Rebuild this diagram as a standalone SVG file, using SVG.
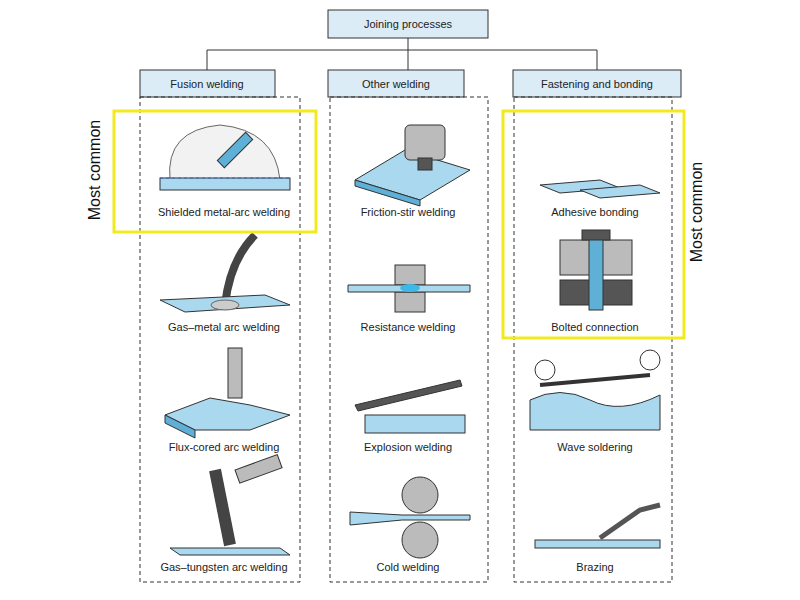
<svg xmlns="http://www.w3.org/2000/svg" width="800" height="600" viewBox="0 0 800 600">
<style>
.hdr{fill:#dcecf7;stroke:#333;stroke-width:1}
.col{fill:none;stroke:#333;stroke-width:1;stroke-dasharray:4,3}
.t{font-family:"Liberation Sans",Arial,sans-serif;font-size:11px;fill:#222;text-anchor:middle}
.mc{font-family:"Liberation Sans",Arial,sans-serif;font-size:16px;fill:#111;text-anchor:middle}
.yl{fill:none;stroke:#f2ea1e;stroke-width:3}
.pl{fill:#a9d8ef;stroke:#333;stroke-width:1}
.pd{fill:#5fb0d6;stroke:#333;stroke-width:1}
.gr{fill:#bbb;stroke:#333;stroke-width:1}
.dk{fill:#555;stroke:#333;stroke-width:1}
</style>
<rect width="800" height="600" fill="#fff"/>
<g id="connectors" fill="none" stroke="#333" stroke-width="1">
<path d="M408,38V50M207,50H597M207,50V70M408,50V70M597,50V70"/>
</g>
<g id="root"><rect class="hdr" x="328" y="10" width="160" height="28"/><text class="t" x="408" y="28">Joining processes</text></g>
<g id="fusion"><rect class="hdr" x="140" y="70" width="135" height="27"/><text class="t" x="207" y="88">Fusion welding</text><rect class="col" x="140" y="97" width="160" height="485"/></g>
<g id="other"><rect class="hdr" x="328" y="70" width="136" height="27"/><text class="t" x="396" y="88">Other welding</text><rect class="col" x="330" y="97" width="158" height="485"/></g>
<g id="fasten"><rect class="hdr" x="513" y="70" width="168" height="27"/><text class="t" x="597" y="88">Fastening and bonding</text><rect class="col" x="514" y="97" width="158" height="485"/></g>
<g id="smaw"><path d="M170,180 Q165,130 220,125 Q275,130 280,180Z" fill="#f2f2f2" stroke="#666"/><rect class="pl" x="160" y="178" width="130" height="12"/><path d="M160,178 H290" stroke="#36c" stroke-dasharray="3,3"/><rect class="pd" x="215" y="145" width="40" height="10" transform="rotate(-45 235 150)"/><text class="t" x="224" y="216">Shielded metal-arc welding</text></g>
<g id="gmaw"><path d="M225,305 Q230,260 255,235" fill="none" stroke="#444" stroke-width="8"/><path d="M160,300 L265,295 L290,305 L185,312Z" class="pl"/><ellipse cx="225" cy="305" rx="14" ry="5" fill="#ccc" stroke="#666"/><text class="t" x="224" y="331">Gas–metal arc welding</text></g>
<g id="fcaw"><rect class="gr" x="228" y="348" width="14" height="50"/><path d="M165,415 L210,398 L250,405 L290,415 L250,430 L195,430Z" class="pl"/><path d="M165,415 L195,430 L195,438 L165,423Z" class="pd"/><text class="t" x="224" y="451">Flux-cored arc welding</text></g>
<g id="gtaw"><path d="M215,470 L230,545" stroke="#444" stroke-width="12"/><rect class="gr" x="235" y="470" width="45" height="14" transform="rotate(-20 235 470)"/><path d="M170,548 H280 L290,555 H180Z" class="pl"/><text class="t" x="224" y="571">Gas–tungsten arc welding</text></g>
<g id="fsw"><path d="M355,180 L405,150 L470,170 L420,200Z" class="pl"/><path d="M355,180 L420,200 V206 L355,186Z" class="pd"/><rect class="gr" x="405" y="125" width="40" height="35" rx="5"/><rect class="dk" x="418" y="158" width="14" height="12"/><text class="t" x="408" y="216">Friction-stir welding</text></g>
<g id="rw"><rect class="gr" x="395" y="265" width="30" height="20"/><rect class="gr" x="395" y="292" width="30" height="20"/><path d="M348,285 H470 V292 H348Z" class="pl"/><ellipse cx="410" cy="288" rx="10" ry="4" fill="#3fb8e8"/><text class="t" x="408" y="331">Resistance welding</text></g>
<g id="ew"><path d="M355,405 L460,380 L462,386 L358,411Z" class="dk"/><rect class="pl" x="365" y="415" width="100" height="18"/><text class="t" x="408" y="451">Explosion welding</text></g>
<g id="cw"><circle class="gr" cx="420" cy="495" r="18"/><circle class="gr" cx="420" cy="540" r="18"/><path d="M350,512 L402,515 H470 V520 H402 L350,525Z" class="pl"/><text class="t" x="408" y="571">Cold welding</text></g>
<g id="ab"><path d="M540,185 L600,180 L620,188 L560,193Z" class="pl"/><path d="M580,190 L640,185 L660,193 L600,198Z" class="pl"/><text class="t" x="595" y="216">Adhesive bonding</text></g>
<g id="bc"><rect class="gr" x="560" y="240" width="72" height="35"/><rect class="dk" x="560" y="280" width="72" height="25"/><rect class="pd" x="589" y="235" width="14" height="75"/><rect class="dk" x="582" y="230" width="28" height="10"/><text class="t" x="595" y="331">Bolted connection</text></g>
<g id="ws"><path d="M530,400 Q560,385 590,400 Q620,415 660,395 V430 H530Z" class="pl"/><path d="M540,385 L650,375" stroke="#333" stroke-width="4"/><circle cx="545" cy="370" r="10" fill="#fff" stroke="#333"/><circle cx="650" cy="360" r="10" fill="#fff" stroke="#333"/><text class="t" x="595" y="451">Wave soldering</text></g>
<g id="br"><rect class="pl" x="535" y="540" width="125" height="8"/><path d="M600,538 L640,510 L660,505" fill="none" stroke="#555" stroke-width="5"/><text class="t" x="595" y="571">Brazing</text></g>
<g id="highlights"><rect class="yl" x="114" y="111" width="202" height="121"/><rect class="yl" x="503" y="111" width="181" height="227"/>
<text class="mc" transform="translate(100,170) rotate(-90)">Most common</text>
<text class="mc" transform="translate(702,212) rotate(-90)">Most common</text></g>
</svg>
